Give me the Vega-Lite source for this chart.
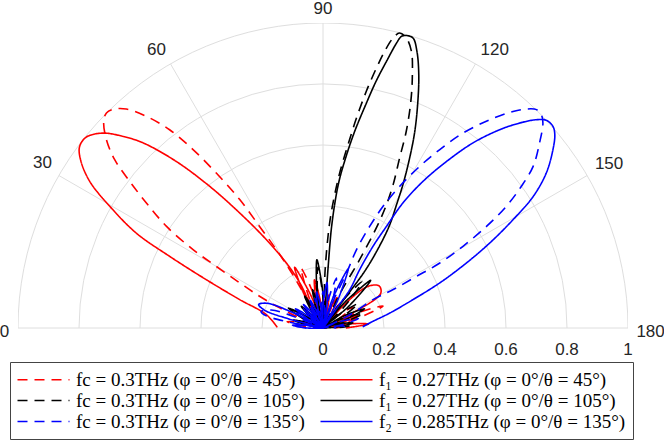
{
  "$schema": "https://vega.github.io/schema/vega-lite/v6.json",
  "width": 610,
  "height": 305,
  "autosize": {"type": "none"},
  "padding": {"left": 18, "top": 23, "right": 36, "bottom": 112},
  "background": "white",
  "config": {"view": {"stroke": null}},
  "datasets": {
    "beams": [
      {"s":"A","i":1,"x":0,"y":0},{"s":"A","i":2,"x":-0.060,"y":0.005},{"s":"A","i":3,"x":-0.118,"y":0.021},{"s":"A","i":4,"x":-0.058,"y":0.016},{"s":"A","i":5,"x":0,"y":0},
      {"s":"A","i":6,"x":-0.076,"y":0.033},{"s":"A","i":7,"x":-0.142,"y":0.066},{"s":"A","i":8,"x":-0.208,"y":0.104},{"s":"A","i":9,"x":-0.273,"y":0.148},{"s":"A","i":10,"x":-0.350,"y":0.202},
      {"s":"A","i":11,"x":-0.426,"y":0.257},{"s":"A","i":12,"x":-0.513,"y":0.333},{"s":"A","i":13,"x":-0.579,"y":0.410},{"s":"A","i":14,"x":-0.634,"y":0.481},{"s":"A","i":15,"x":-0.683,"y":0.552},
      {"s":"A","i":16,"x":-0.710,"y":0.617},{"s":"A","i":17,"x":-0.719,"y":0.677},{"s":"A","i":18,"x":-0.710,"y":0.705},{"s":"A","i":19,"x":-0.683,"y":0.718},{"s":"A","i":20,"x":-0.645,"y":0.718},
      {"s":"A","i":21,"x":-0.579,"y":0.694},{"s":"A","i":22,"x":-0.503,"y":0.650},{"s":"A","i":23,"x":-0.426,"y":0.585},{"s":"A","i":24,"x":-0.350,"y":0.508},{"s":"A","i":25,"x":-0.273,"y":0.421},
      {"s":"A","i":26,"x":-0.208,"y":0.333},{"s":"A","i":27,"x":-0.153,"y":0.257},{"s":"A","i":28,"x":-0.109,"y":0.191},{"s":"A","i":29,"x":-0.076,"y":0.136},{"s":"A","i":30,"x":-0.038,"y":0.068},
      {"s":"A","i":31,"x":0,"y":0},{"s":"A","i":32,"x":-0.044,"y":0.095},{"s":"A","i":33,"x":-0.072,"y":0.197},{"s":"A","i":34,"x":-0.027,"y":0.101},{"s":"A","i":35,"x":0,"y":0},
      {"s":"A","i":36,"x":-0.018,"y":0.068},{"s":"A","i":37,"x":-0.024,"y":0.138},{"s":"A","i":38,"x":-0.006,"y":0.070},{"s":"A","i":39,"x":0,"y":0},
      {"s":"A","i":40,"x":0,"y":0.05},{"s":"A","i":41,"x":0.009,"y":0.100},{"s":"A","i":42,"x":0.009,"y":0.049},{"s":"A","i":43,"x":0,"y":0},
      {"s":"A","i":44,"x":0.012,"y":0.043},{"s":"A","i":45,"x":0.031,"y":0.085},{"s":"A","i":46,"x":0.019,"y":0.041},{"s":"A","i":47,"x":0,"y":0},
      {"s":"A","i":48,"x":0.025,"y":0.043},{"s":"A","i":49,"x":0.057,"y":0.082},{"s":"A","i":50,"x":0.032,"y":0.038},{"s":"A","i":51,"x":0,"y":0},
      {"s":"A","i":52,"x":0.046,"y":0.039},{"s":"A","i":53,"x":0.098,"y":0.069},{"s":"A","i":54,"x":0.052,"y":0.030},{"s":"A","i":55,"x":0,"y":0},
      {"s":"A","i":56,"x":0.095,"y":0.044},{"s":"A","i":57,"x":0.197,"y":0.072},{"s":"A","i":58,"x":0.101,"y":0.027},{"s":"A","i":59,"x":0,"y":0},
      {"s":"A","i":60,"x":0.039,"y":0.007},{"s":"A","i":61,"x":0.080,"y":0.007},{"s":"A","i":62,"x":0.040,"y":0.000},

      {"s":"B","i":63,"x":-0.150,"y":0.002},{"s":"B","i":64,"x":-0.186,"y":0.044},{"s":"B","i":65,"x":-0.273,"y":0.093},{"s":"B","i":66,"x":-0.382,"y":0.158},{"s":"B","i":67,"x":-0.503,"y":0.235},
      {"s":"B","i":68,"x":-0.612,"y":0.311},{"s":"B","i":69,"x":-0.699,"y":0.399},{"s":"B","i":70,"x":-0.765,"y":0.481},{"s":"B","i":71,"x":-0.795,"y":0.552},{"s":"B","i":72,"x":-0.798,"y":0.595},
      {"s":"B","i":73,"x":-0.776,"y":0.626},{"s":"B","i":74,"x":-0.721,"y":0.639},{"s":"B","i":75,"x":-0.655,"y":0.628},{"s":"B","i":76,"x":-0.590,"y":0.607},{"s":"B","i":77,"x":-0.481,"y":0.546},
      {"s":"B","i":78,"x":-0.371,"y":0.464},{"s":"B","i":79,"x":-0.273,"y":0.377},{"s":"B","i":80,"x":-0.186,"y":0.290},{"s":"B","i":81,"x":-0.120,"y":0.213},{"s":"B","i":82,"x":-0.076,"y":0.148},
      {"s":"B","i":83,"x":-0.049,"y":0.093},{"s":"B","i":84,"x":-0.022,"y":0.040},{"s":"B","i":85,"x":0,"y":0},
      {"s":"B","i":86,"x":-0.055,"y":0.095},{"s":"B","i":87,"x":-0.093,"y":0.199},{"s":"B","i":88,"x":-0.038,"y":0.103},{"s":"B","i":89,"x":0,"y":0},
      {"s":"B","i":90,"x":-0.021,"y":0.077},{"s":"B","i":91,"x":-0.028,"y":0.158},{"s":"B","i":92,"x":-0.007,"y":0.080},{"s":"B","i":93,"x":0,"y":0},
      {"s":"B","i":94,"x":0.005,"y":0.055},{"s":"B","i":95,"x":0.019,"y":0.108},{"s":"B","i":96,"x":0.014,"y":0.053},{"s":"B","i":97,"x":0,"y":0},
      {"s":"B","i":98,"x":0.019,"y":0.052},{"s":"B","i":99,"x":0.046,"y":0.100},{"s":"B","i":100,"x":0.028,"y":0.048},{"s":"B","i":101,"x":0,"y":0},
      {"s":"B","i":102,"x":0.067,"y":0.074},{"s":"B","i":103,"x":0.146,"y":0.136},{"s":"B","i":104,"x":0.184,"y":0.138},{"s":"B","i":105,"x":0.189,"y":0.113},{"s":"B","i":106,"x":0.089,"y":0.045},{"s":"B","i":107,"x":0,"y":0},
      {"s":"B","i":108,"x":0.054,"y":0.025},{"s":"B","i":109,"x":0.113,"y":0.041},{"s":"B","i":110,"x":0.058,"y":0.016},{"s":"B","i":111,"x":0,"y":0},
      {"s":"B","i":112,"x":0.074,"y":0.013},{"s":"B","i":113,"x":0.149,"y":0.013},{"s":"B","i":114,"x":0.075,"y":0.000},

      {"s":"C","i":115,"x":0,"y":0},{"s":"C","i":116,"x":-0.039,"y":0.007},{"s":"C","i":117,"x":-0.077,"y":0.021},{"s":"C","i":118,"x":-0.038,"y":0.014},{"s":"C","i":119,"x":0,"y":0},
      {"s":"C","i":120,"x":-0.054,"y":0.025},{"s":"C","i":121,"x":-0.104,"y":0.060},{"s":"C","i":122,"x":-0.049,"y":0.034},{"s":"C","i":123,"x":0,"y":0},
      {"s":"C","i":124,"x":-0.034,"y":0.029},{"s":"C","i":125,"x":-0.064,"y":0.064},{"s":"C","i":126,"x":-0.029,"y":0.034},{"s":"C","i":127,"x":0,"y":0},
      {"s":"C","i":128,"x":-0.029,"y":0.041},{"s":"C","i":129,"x":-0.050,"y":0.087},{"s":"C","i":130,"x":-0.021,"y":0.045},{"s":"C","i":131,"x":0,"y":0},
      {"s":"C","i":132,"x":-0.022,"y":0.061},{"s":"C","i":133,"x":-0.034,"y":0.126},{"s":"C","i":134,"x":-0.011,"y":0.064},{"s":"C","i":135,"x":0,"y":0},
      {"s":"C","i":136,"x":-0.017,"y":0.098},{"s":"C","i":137,"x":-0.017,"y":0.199},{"s":"C","i":138,"x":0,"y":0.10},{"s":"C","i":139,"x":0,"y":0},
      {"s":"C","i":140,"x":0.003,"y":0.06},{"s":"C","i":141,"x":0.007,"y":0.19},{"s":"C","i":142,"x":0.021,"y":0.339},{"s":"C","i":143,"x":0.036,"y":0.426},{"s":"C","i":144,"x":0.056,"y":0.513},
      {"s":"C","i":145,"x":0.082,"y":0.601},{"s":"C","i":146,"x":0.110,"y":0.689},{"s":"C","i":147,"x":0.142,"y":0.776},{"s":"C","i":148,"x":0.175,"y":0.852},{"s":"C","i":149,"x":0.202,"y":0.907},
      {"s":"C","i":150,"x":0.230,"y":0.951},{"s":"C","i":151,"x":0.251,"y":0.967},{"s":"C","i":152,"x":0.273,"y":0.951},{"s":"C","i":153,"x":0.290,"y":0.907},{"s":"C","i":154,"x":0.293,"y":0.830},
      {"s":"C","i":155,"x":0.288,"y":0.743},{"s":"C","i":156,"x":0.273,"y":0.645},{"s":"C","i":157,"x":0.251,"y":0.557},{"s":"C","i":158,"x":0.230,"y":0.470},{"s":"C","i":159,"x":0.208,"y":0.404},
      {"s":"C","i":160,"x":0.180,"y":0.339},{"s":"C","i":161,"x":0.120,"y":0.224},{"s":"C","i":162,"x":0.054,"y":0.110},{"s":"C","i":163,"x":0.022,"y":0.044},{"s":"C","i":164,"x":0,"y":0},
      {"s":"C","i":165,"x":0.057,"y":0.082},{"s":"C","i":166,"x":0.129,"y":0.153},{"s":"C","i":167,"x":0.071,"y":0.071},{"s":"C","i":168,"x":0,"y":0},
      {"s":"C","i":169,"x":0.054,"y":0.045},{"s":"C","i":170,"x":0.115,"y":0.080},{"s":"C","i":171,"x":0.061,"y":0.035},{"s":"C","i":172,"x":0,"y":0},
      {"s":"C","i":173,"x":0.063,"y":0.030},{"s":"C","i":174,"x":0.132,"y":0.048},{"s":"C","i":175,"x":0.068,"y":0.018},{"s":"C","i":176,"x":0,"y":0},
      {"s":"C","i":177,"x":0.044,"y":0.008},{"s":"C","i":178,"x":0.090,"y":0.008},{"s":"C","i":179,"x":0.045,"y":0.000},

      {"s":"D","i":180,"x":0,"y":0},{"s":"D","i":181,"x":-0.049,"y":0.009},{"s":"D","i":182,"x":-0.097,"y":0.026},{"s":"D","i":183,"x":-0.047,"y":0.017},{"s":"D","i":184,"x":0,"y":0},
      {"s":"D","i":185,"x":-0.059,"y":0.027},{"s":"D","i":186,"x":-0.113,"y":0.065},{"s":"D","i":187,"x":-0.053,"y":0.037},{"s":"D","i":188,"x":0,"y":0},
      {"s":"D","i":189,"x":-0.038,"y":0.032},{"s":"D","i":190,"x":-0.071,"y":0.071},{"s":"D","i":191,"x":-0.032,"y":0.038},{"s":"D","i":192,"x":0,"y":0},
      {"s":"D","i":193,"x":-0.034,"y":0.049},{"s":"D","i":194,"x":-0.060,"y":0.104},{"s":"D","i":195,"x":-0.025,"y":0.054},{"s":"D","i":196,"x":0,"y":0},
      {"s":"D","i":197,"x":-0.021,"y":0.056},{"s":"D","i":198,"x":-0.031,"y":0.116},{"s":"D","i":199,"x":-0.010,"y":0.059},{"s":"D","i":200,"x":0,"y":0},
      {"s":"D","i":201,"x":-0.019,"y":0.108},{"s":"D","i":202,"x":-0.020,"y":0.224},{"s":"D","i":203,"x":0,"y":0.11},{"s":"D","i":204,"x":0,"y":0},
      {"s":"D","i":205,"x":0.009,"y":0.093},{"s":"D","i":206,"x":0.017,"y":0.202},{"s":"D","i":207,"x":0.029,"y":0.339},{"s":"D","i":209,"x":0.050,"y":0.470},
      {"s":"D","i":210,"x":0.074,"y":0.557},{"s":"D","i":211,"x":0.104,"y":0.645},{"s":"D","i":212,"x":0.140,"y":0.732},{"s":"D","i":213,"x":0.174,"y":0.809},{"s":"D","i":214,"x":0.208,"y":0.874},
      {"s":"D","i":215,"x":0.241,"y":0.934},{"s":"D","i":216,"x":0.257,"y":0.956},{"s":"D","i":217,"x":0.273,"y":0.959},{"s":"D","i":218,"x":0.295,"y":0.951},{"s":"D","i":219,"x":0.308,"y":0.907},
      {"s":"D","i":220,"x":0.314,"y":0.830},{"s":"D","i":221,"x":0.311,"y":0.743},{"s":"D","i":222,"x":0.301,"y":0.645},{"s":"D","i":223,"x":0.284,"y":0.557},{"s":"D","i":224,"x":0.262,"y":0.470},
      {"s":"D","i":225,"x":0.241,"y":0.404},{"s":"D","i":226,"x":0.219,"y":0.339},{"s":"D","i":227,"x":0.186,"y":0.270},{"s":"D","i":228,"x":0.140,"y":0.191},{"s":"D","i":229,"x":0.088,"y":0.119},{"s":"D","i":229.5,"x":0.038,"y":0.053},{"s":"D","i":230,"x":0,"y":0},
      {"s":"D","i":231,"x":0.071,"y":0.084},{"s":"D","i":232,"x":0.156,"y":0.156},{"s":"D","i":233,"x":0.084,"y":0.071},{"s":"D","i":234,"x":0,"y":0},
      {"s":"D","i":235,"x":0.065,"y":0.038},{"s":"D","i":236,"x":0.136,"y":0.063},{"s":"D","i":237,"x":0.070,"y":0.026},{"s":"D","i":238,"x":0,"y":0},
      {"s":"D","i":239,"x":0.048,"y":0.013},{"s":"D","i":240,"x":0.098,"y":0.017},{"s":"D","i":241,"x":0.050,"y":0.004},{"s":"D","i":242,"x":0,"y":0},

      {"s":"E","i":243,"x":0,"y":0},{"s":"E","i":244,"x":-0.050,"y":0.000},{"s":"E","i":245,"x":-0.100,"y":0.009},{"s":"E","i":246,"x":-0.049,"y":0.009},{"s":"E","i":247,"x":0,"y":0},
      {"s":"E","i":248,"x":-0.118,"y":0.021},{"s":"E","i":249,"x":-0.186,"y":0.040},{"s":"E","i":250,"x":-0.203,"y":0.054},{"s":"E","i":251,"x":-0.170,"y":0.059},{"s":"E","i":252,"x":-0.093,"y":0.037},{"s":"E","i":253,"x":0,"y":0},
      {"s":"E","i":254,"x":-0.045,"y":0.021},{"s":"E","i":255,"x":-0.087,"y":0.050},{"s":"E","i":256,"x":-0.041,"y":0.029},{"s":"E","i":257,"x":0,"y":0},
      {"s":"E","i":258,"x":-0.034,"y":0.029},{"s":"E","i":259,"x":-0.064,"y":0.064},{"s":"E","i":260,"x":-0.029,"y":0.034},{"s":"E","i":261,"x":0,"y":0},
      {"s":"E","i":262,"x":-0.026,"y":0.037},{"s":"E","i":263,"x":-0.045,"y":0.078},{"s":"E","i":264,"x":-0.019,"y":0.041},{"s":"E","i":265,"x":0,"y":0},
      {"s":"E","i":266,"x":-0.017,"y":0.047},{"s":"E","i":267,"x":-0.026,"y":0.097},{"s":"E","i":268,"x":-0.009,"y":0.049},{"s":"E","i":269,"x":0,"y":0},
      {"s":"E","i":270,"x":-0.005,"y":0.060},{"s":"E","i":271,"x":0,"y":0.12},{"s":"E","i":272,"x":0.005,"y":0.060},{"s":"E","i":273,"x":0,"y":0},
      {"s":"E","i":274,"x":0.015,"y":0.084},{"s":"E","i":275,"x":0.044,"y":0.164},{"s":"E","i":276,"x":0.029,"y":0.080},{"s":"E","i":277,"x":0,"y":0},
      {"s":"E","i":278,"x":0.036,"y":0.094},{"s":"E","i":279,"x":0.077,"y":0.180},{"s":"E","i":280,"x":0.110,"y":0.257},{"s":"E","i":281,"x":0.153,"y":0.333},{"s":"E","i":282,"x":0.197,"y":0.399},
      {"s":"E","i":283,"x":0.251,"y":0.464},{"s":"E","i":284,"x":0.317,"y":0.530},{"s":"E","i":285,"x":0.383,"y":0.585},{"s":"E","i":286,"x":0.459,"y":0.639},{"s":"E","i":287,"x":0.547,"y":0.683},
      {"s":"E","i":288,"x":0.623,"y":0.710},{"s":"E","i":289,"x":0.667,"y":0.718},{"s":"E","i":290,"x":0.700,"y":0.716},{"s":"E","i":291,"x":0.716,"y":0.699},{"s":"E","i":292,"x":0.721,"y":0.672},
      {"s":"E","i":293,"x":0.710,"y":0.607},{"s":"E","i":294,"x":0.689,"y":0.530},{"s":"E","i":295,"x":0.650,"y":0.464},{"s":"E","i":296,"x":0.601,"y":0.399},{"s":"E","i":297,"x":0.536,"y":0.333},
      {"s":"E","i":298,"x":0.459,"y":0.268},{"s":"E","i":299,"x":0.383,"y":0.213},{"s":"E","i":300,"x":0.306,"y":0.169},{"s":"E","i":301,"x":0.230,"y":0.126},{"s":"E","i":302,"x":0.164,"y":0.093},
      {"s":"E","i":303,"x":0.098,"y":0.049},{"s":"E","i":304,"x":0.040,"y":0.018},{"s":"E","i":305,"x":0,"y":0},
      {"s":"E","i":306,"x":0.056,"y":0.021},{"s":"E","i":307,"x":0.116,"y":0.031},{"s":"E","i":308,"x":0.059,"y":0.010},{"s":"E","i":309,"x":0,"y":0},
      {"s":"E","i":310,"x":0.034,"y":0.006},{"s":"E","i":311,"x":0.070,"y":0.006},{"s":"E","i":312,"x":0.035,"y":0.000},

      {"s":"F","i":313,"x":0,"y":0},{"s":"F","i":314,"x":-0.050,"y":0.000},{"s":"F","i":315,"x":-0.100,"y":0.009},{"s":"F","i":316,"x":-0.049,"y":0.009},{"s":"F","i":317,"x":0,"y":0},
      {"s":"F","i":318,"x":-0.116,"y":0.031},{"s":"F","i":319,"x":-0.191,"y":0.058},{"s":"F","i":320,"x":-0.211,"y":0.077},{"s":"F","i":321,"x":-0.183,"y":0.081},{"s":"F","i":322,"x":-0.098,"y":0.050},{"s":"F","i":323,"x":0,"y":0},
      {"s":"F","i":324,"x":-0.048,"y":0.028},{"s":"F","i":325,"x":-0.090,"y":0.063},{"s":"F","i":326,"x":-0.042,"y":0.035},{"s":"F","i":327,"x":0,"y":0},
      {"s":"F","i":328,"x":-0.035,"y":0.035},{"s":"F","i":329,"x":-0.064,"y":0.077},{"s":"F","i":330,"x":-0.029,"y":0.041},{"s":"F","i":331,"x":0,"y":0},
      {"s":"F","i":332,"x":-0.025,"y":0.043},{"s":"F","i":333,"x":-0.042,"y":0.091},{"s":"F","i":334,"x":-0.017,"y":0.047},{"s":"F","i":335,"x":0,"y":0},
      {"s":"F","i":336,"x":-0.016,"y":0.058},{"s":"F","i":337,"x":-0.021,"y":0.118},{"s":"F","i":338,"x":-0.005,"y":0.060},{"s":"F","i":339,"x":0,"y":0},
      {"s":"F","i":340,"x":0,"y":0.075},{"s":"F","i":341,"x":0.013,"y":0.149},{"s":"F","i":342,"x":0.013,"y":0.074},{"s":"F","i":343,"x":0,"y":0},
      {"s":"F","i":344,"x":0.031,"y":0.095},{"s":"F","i":345,"x":0.082,"y":0.193},{"s":"F","i":346,"x":0.047,"y":0.088},{"s":"F","i":347,"x":0,"y":0},
      {"s":"F","i":348,"x":0.045,"y":0.065},{"s":"F","i":349,"x":0.088,"y":0.126},{"s":"F","i":350,"x":0.120,"y":0.191},{"s":"F","i":351,"x":0.164,"y":0.268},{"s":"F","i":352,"x":0.208,"y":0.333},
      {"s":"F","i":353,"x":0.262,"y":0.410},{"s":"F","i":354,"x":0.328,"y":0.481},{"s":"F","i":355,"x":0.405,"y":0.546},{"s":"F","i":356,"x":0.492,"y":0.607},{"s":"F","i":357,"x":0.579,"y":0.650},
      {"s":"F","i":358,"x":0.645,"y":0.672},{"s":"F","i":359,"x":0.700,"y":0.683},{"s":"F","i":360,"x":0.732,"y":0.681},{"s":"F","i":361,"x":0.754,"y":0.661},{"s":"F","i":362,"x":0.760,"y":0.634},
      {"s":"F","i":363,"x":0.754,"y":0.585},{"s":"F","i":364,"x":0.732,"y":0.508},{"s":"F","i":365,"x":0.689,"y":0.431},{"s":"F","i":366,"x":0.623,"y":0.355},{"s":"F","i":367,"x":0.547,"y":0.279},
      {"s":"F","i":368,"x":0.470,"y":0.213},{"s":"F","i":369,"x":0.383,"y":0.148},{"s":"F","i":370,"x":0.295,"y":0.093},{"s":"F","i":371,"x":0.219,"y":0.049},{"s":"F","i":372,"x":0.164,"y":0.022},{"s":"F","i":373,"x":0.130,"y":0.004}
    ]
  },
  "layer": [
    {
      "data": {"values": [
        {"cx": 0, "cy": 0, "r": 0.2}, {"cx": 0, "cy": 0, "r": 0.4}, {"cx": 0, "cy": 0, "r": 0.6},
        {"cx": 0, "cy": 0, "r": 0.8}, {"cx": 0, "cy": 0, "r": 1}
      ]},
      "mark": {"type": "point", "shape": "circle", "filled": false, "stroke": "#dedede", "strokeWidth": 1, "opacity": 1, "clip": true},
      "encoding": {
        "x": {"field": "cx", "type": "quantitative", "scale": {"domain": [-1, 1], "nice": false, "zero": false}, "axis": null},
        "y": {"field": "cy", "type": "quantitative", "scale": {"domain": [0, 1], "nice": false}, "axis": null},
        "size": {"field": "r", "type": "quantitative", "legend": null, "scale": {"type": "pow", "exponent": 2, "domain": [0, 1], "range": [0, 372100]}}
      }
    },
    {
      "data": {"values": [
        {"xs": -1, "ys": 0, "xe": 1, "ye": 0},
        {"xs": 0, "ys": 0, "xe": -0.866, "ye": 0.5}, {"xs": 0, "ys": 0, "xe": -0.5, "ye": 0.866},
        {"xs": 0, "ys": 0, "xe": 0, "ye": 1}, {"xs": 0, "ys": 0, "xe": 0.5, "ye": 0.866},
        {"xs": 0, "ys": 0, "xe": 0.866, "ye": 0.5}
      ]},
      "mark": {"type": "rule", "stroke": "#dedede", "strokeWidth": 1},
      "encoding": {
        "x": {"field": "xs", "type": "quantitative"},
        "y": {"field": "ys", "type": "quantitative"},
        "x2": {"field": "xe"},
        "y2": {"field": "ye"}
      }
    },
    {
      "data": {"name": "beams"},
      "mark": {"type": "line", "strokeWidth": 1.6, "interpolate": "catmull-rom"},
      "encoding": {
        "x": {"field": "x", "type": "quantitative"},
        "y": {"field": "y", "type": "quantitative"},
        "order": {"field": "i", "type": "quantitative"},
        "color": {
          "field": "s",
          "type": "nominal",
          "scale": {
            "domain": ["A", "C", "E", "B", "D", "F"],
            "range": ["#ff0000", "#000000", "#0000ff", "#ff0000", "#000000", "#0000ff"]
          },
          "legend": {
            "title": null,
            "orient": "none",
            "legendX": -8,
            "legendY": 339,
            "direction": "vertical",
            "columns": 2,
            "columnPadding": 12,
            "rowPadding": 0,
            "padding": 7,
            "symbolType": "M-2.74,0H2.74",
            "symbolSize": 360,
            "symbolOffset": 16,
            "symbolStrokeWidth": 1.6,
            "labelFont": "Liberation Serif",
            "labelFontSize": 19,
            "labelColor": "#000000",
            "labelOffset": 22,
            "labelLimit": 400,
            "strokeColor": "#444444",
            "fillColor": "#ffffff",
            "labelExpr": "datum.value == 'A' ? 'fc = 0.3THz (φ = 0°/θ = 45°)' : datum.value == 'B' ? 'f₁ = 0.27THz (φ = 0°/θ = 45°)' : datum.value == 'C' ? 'fc = 0.3THz (φ = 0°/θ = 105°)' : datum.value == 'D' ? 'f₁ = 0.27THz (φ = 0°/θ = 105°)' : datum.value == 'E' ? 'fc = 0.3THz (φ = 0°/θ = 135°)' : 'f₂ = 0.285THz (φ = 0°/θ = 135°)'"
          }
        },
        "strokeDash": {
          "field": "s",
          "type": "nominal",
          "scale": {
            "domain": ["A", "C", "E", "B", "D", "F"],
            "range": [[10, 7], [10, 7], [10, 7], [1, 0], [1, 0], [1, 0]]
          }
        }
      }
    },
    {
      "data": {"values": [
        {"t": "0", "x": -1.044, "y": -0.012}, {"t": "30", "x": -0.92, "y": 0.541},
        {"t": "60", "x": -0.546, "y": 0.912}, {"t": "90", "x": 0, "y": 1.045},
        {"t": "120", "x": 0.563, "y": 0.912}, {"t": "150", "x": 0.938, "y": 0.539},
        {"t": "180", "x": 1.074, "y": -0.012}
      ]},
      "mark": {"type": "text", "font": "Liberation Sans", "fontSize": 17, "color": "#262626", "align": "center", "baseline": "middle"},
      "encoding": {
        "x": {"field": "x", "type": "quantitative"},
        "y": {"field": "y", "type": "quantitative"},
        "text": {"field": "t"}
      }
    },
    {
      "data": {"values": [
        {"t": "0", "r": 0, "ly": -0.071}, {"t": "0.2", "r": 0.2, "ly": -0.071}, {"t": "0.4", "r": 0.4, "ly": -0.071},
        {"t": "0.6", "r": 0.6, "ly": -0.071}, {"t": "0.8", "r": 0.8, "ly": -0.071}, {"t": "1", "r": 1, "ly": -0.071}
      ]},
      "mark": {"type": "text", "font": "Liberation Sans", "fontSize": 17, "color": "#262626", "align": "center", "baseline": "middle"},
      "encoding": {
        "x": {"field": "r", "type": "quantitative"},
        "y": {"field": "ly", "type": "quantitative"},
        "text": {"field": "t"}
      }
    }
  ]
}
